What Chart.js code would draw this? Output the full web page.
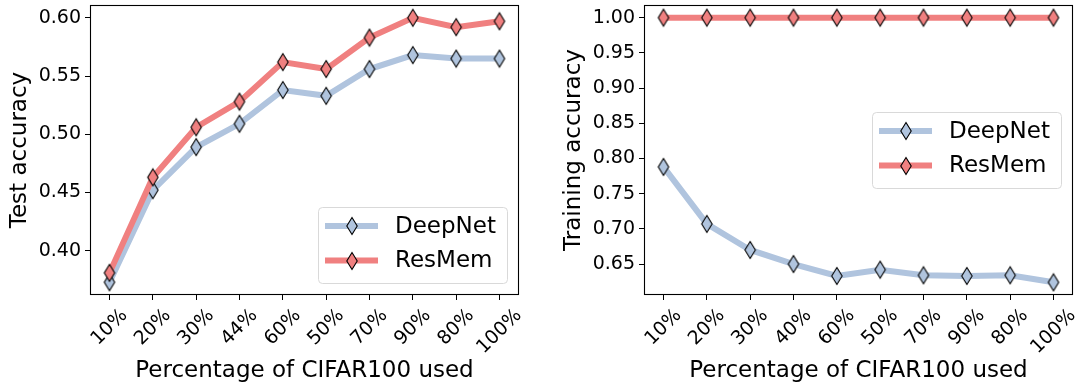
<!DOCTYPE html>
<html>
<head>
<meta charset="utf-8">
<script src="https://cdn.jsdelivr.net/npm/chart.js@4/dist/chart.umd.min.js"></script>
<style>
  html, body { margin: 0; padding: 0; background: #fff; }
  #wrap { position: relative; width: 1083px; height: 391px; overflow: hidden; }
  .box { position: absolute; top: 0; height: 391px; }
  #leftBox { left: 0; width: 554px; }
  #rightBox { left: 554px; width: 529px; }
</style>
</head>
<body>
<div id="wrap">
  <div class="box" id="leftBox"><canvas id="testChart"></canvas></div>
  <div class="box" id="rightBox"><canvas id="trainChart"></canvas></div>
</div>
<script>
// categories (order as in the figure)
const testCategories = ["10%", "20%", "30%", "44%", "60%", "50%", "70%", "90%", "80%", "100%"];
const trainCategories = ["10%", "20%", "30%", "40%", "60%", "50%", "70%", "90%", "80%", "100%"];

// left panel: test accuracy
const testDeepNet = [0.373, 0.452, 0.489, 0.509, 0.538, 0.533, 0.556, 0.568, 0.565, 0.565];
const testResMem = [0.381, 0.463, 0.506, 0.528, 0.562, 0.556, 0.583, 0.600, 0.592, 0.597];

// right panel: training accuracy
const trainDeepNet = [0.788, 0.707, 0.670, 0.650, 0.633, 0.642, 0.634, 0.633, 0.634, 0.624];
const trainResMem = [1.00, 1.00, 1.00, 1.00, 1.00, 1.00, 1.00, 1.00, 1.00, 1.00];

// tick labels
const testTicks = [0.40, 0.45, 0.50, 0.55, 0.60];
const trainTicks = [0.65, 0.70, 0.75, 0.80, 0.85, 0.90, 0.95, 1.00];

const FONT = "'DejaVu Sans', 'Liberation Sans', sans-serif";
const BLUE = "#b0c4de";
const RED = "#f08080";

// thin diamond marker, black edge
function diamond(fill) {
  const c = document.createElement("canvas");
  c.width = 14; c.height = 20;
  const g = c.getContext("2d");
  g.beginPath();
  g.moveTo(7, 1.5);
  g.lineTo(12.2, 10);
  g.lineTo(7, 18.5);
  g.lineTo(1.8, 10);
  g.closePath();
  g.fillStyle = fill;
  g.fill();
  g.lineWidth = 1.1;
  g.strokeStyle = "#000";
  g.stroke();
  return c;
}
const blueMark = diamond(BLUE);
const redMark = diamond(RED);

function toPoints(arr) {
  return arr.map((v, i) => ({ x: i, y: v }));
}

// frame, rotated x labels and the in-axes legend
const decorPlugin = {
  id: "decor",
  afterDraw(chart, args, opts) {
    const ctx = chart.ctx;
    const a = chart.chartArea;
    const xs = chart.scales.x;

    ctx.save();
    ctx.strokeStyle = "#000";
    ctx.lineWidth = 1.1;
    ctx.strokeRect(Math.round(a.left) + 0.5, Math.round(a.top) + 0.5,
      Math.round(a.right - a.left) - 1, Math.round(a.bottom - a.top) - 1);

    // x tick labels, rotated 45 deg and centred like matplotlib
    ctx.font = "19px " + FONT;
    ctx.fillStyle = "#000";
    ctx.textAlign = "center";
    ctx.textBaseline = "middle";
    opts.categories.forEach((lab, i) => {
      const x = xs.getPixelForValue(i);
      const w = ctx.measureText(lab).width;
      const h = 19 * 1.16;
      const H = (w + h) * Math.SQRT1_2;
      const cy = a.bottom + 9.6 + H / 2;
      ctx.save();
      ctx.translate(x, cy);
      ctx.rotate(-Math.PI / 4);
      ctx.fillText(lab, 0, 0);
      ctx.restore();
    });

    // legend
    const bw = 189, bh = 76, pad = 12;
    const bx = a.right - pad - bw;
    const by = opts.loc === "lower right" ? a.bottom - pad - bh : (a.top + a.bottom) / 2 - bh / 2;
    ctx.beginPath();
    ctx.roundRect(bx + 0.5, by + 0.5, bw, bh, 4);
    ctx.fillStyle = "rgba(255,255,255,0.8)";
    ctx.fill();
    ctx.strokeStyle = "#d9d9d9";
    ctx.lineWidth = 1;
    ctx.stroke();

    const items = [
      { label: "DeepNet", color: BLUE, mark: blueMark },
      { label: "ResMem", color: RED, mark: redMark }
    ];
    items.forEach((it, k) => {
      const ry = by + 19 + k * 34.5;
      ctx.beginPath();
      ctx.moveTo(bx + 7, ry);
      ctx.lineTo(bx + 60, ry);
      ctx.strokeStyle = it.color;
      ctx.lineWidth = 6;
      ctx.stroke();
      ctx.drawImage(it.mark, Math.round(bx + 33.5 - it.mark.width / 2), Math.round(ry - it.mark.height / 2));
      ctx.font = "23px " + FONT;
      ctx.fillStyle = "#000";
      ctx.textAlign = "left";
      ctx.textBaseline = "middle";
      ctx.fillText(it.label, bx + 77, ry + 1);
    });
    ctx.restore();
  }
};

function makeChart(id, cats, deep, res, yTicks, yMin, yMax, yTitle, loc, padRight) {
  const ctx = document.getElementById(id).getContext("2d");
  return new Chart(ctx, {
    type: "line",
    data: {
      datasets: [
        {
          label: "DeepNet",
          data: toPoints(deep),
          borderColor: BLUE,
          borderWidth: 6,
          pointStyle: blueMark,
          pointRadius: 8,
          tension: 0,
          order: 2
        },
        {
          label: "ResMem",
          data: toPoints(res),
          borderColor: RED,
          borderWidth: 6,
          pointStyle: redMark,
          pointRadius: 8,
          tension: 0,
          order: 1
        }
      ]
    },
    options: {
      responsive: true,
      maintainAspectRatio: false,
      animation: false,
      layout: { autoPadding: false, padding: { top: 5, right: padRight, bottom: 0, left: 0 } },
      plugins: {
        legend: { display: false },
        tooltip: { enabled: false },
        decor: { categories: cats, loc: loc }
      },
      scales: {
        x: {
          type: "linear",
          min: -0.45,
          max: cats.length - 1 + 0.45,
          afterBuildTicks: (s) => { s.ticks = cats.map((c, i) => ({ value: i })); },
          afterFit: (s) => { s.height = 96; s.paddingLeft = 0; s.paddingRight = 0; },
          ticks: { display: false },
          grid: { drawOnChartArea: false, drawTicks: true, tickLength: 5, color: "#000", lineWidth: 1 },
          border: { display: false },
          title: {
            display: true,
            text: "Percentage of CIFAR100 used",
            color: "#000",
            font: { family: FONT, size: 23 },
            padding: { top: 0, bottom: 6 }
          }
        },
        y: {
          min: yMin,
          max: yMax,
          afterBuildTicks: (s) => { s.ticks = yTicks.map(v => ({ value: v })); },
          afterFit: (s) => { s.width = 90; s.paddingTop = 0; s.paddingBottom = 0; },
          ticks: {
            color: "#000",
            font: { family: FONT, size: 19 },
            padding: 4,
            callback: (v) => Number(v).toFixed(2)
          },
          grid: { drawOnChartArea: false, drawTicks: true, tickLength: 5, color: "#000", lineWidth: 1 },
          border: { display: false },
          title: {
            display: true,
            text: yTitle,
            color: "#000",
            font: { family: FONT, size: 23 },
            padding: { top: 6, bottom: 0 }
          }
        }
      }
    },
    plugins: [decorPlugin]
  });
}

makeChart("testChart", testCategories, testDeepNet, testResMem, testTicks, 0.362, 0.611, "Test accuracy", "lower right", 35);
makeChart("trainChart", trainCategories, trainDeepNet, trainResMem, trainTicks, 0.606, 1.018, "Training accuracy", "center right", 10);
</script>
</body>
</html>
